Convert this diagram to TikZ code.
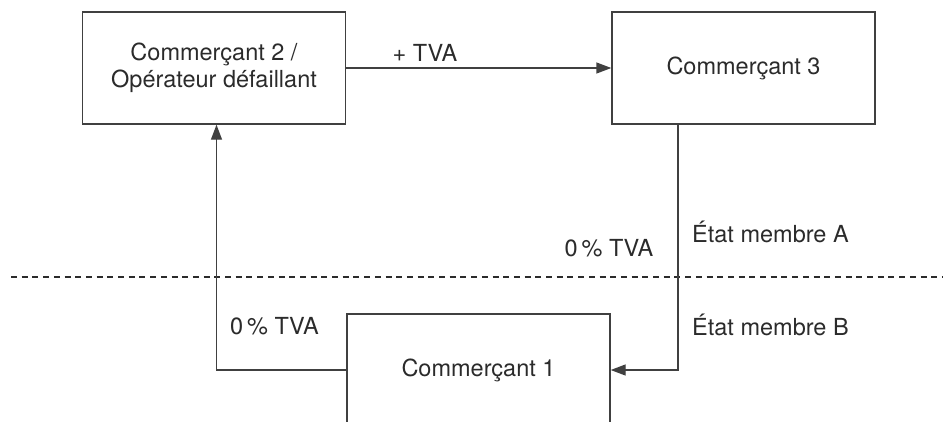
\documentclass[tikz,border=0pt]{standalone}
\usepackage{fontspec}
\setmainfont{TeX Gyre Heros}
\usetikzlibrary{arrows.meta}
\definecolor{ink}{HTML}{2B2B2B}
\definecolor{linec}{HTML}{404040}
\tikzset{
  box/.style={draw=linec, line width=1.4pt, minimum width=263pt, minimum height=112pt, inner sep=0pt, align=center, text=ink, font=\fontsize{23.5}{27}\selectfont},
  conn/.style={draw=linec, line width=1.4pt, -{Triangle[length=15pt,width=11pt]}},
  lbl/.style={text=ink, inner sep=0pt, font=\fontsize{23.5}{24}\selectfont},
  sep/.style={draw=ink, line width=1.3pt, dash pattern=on 6pt off 4.7pt}
}
\begin{document}
\begin{tikzpicture}[x=1pt,y=-1pt]
\useasboundingbox (0,0) rectangle (943,421);
\clip (0,0) rectangle (943,421);
\node[box] (c2) at (214,68) {Commerçant 2 /\\Opérateur défaillant};
\node[box] (c3) at (743.5,68) {Commerçant 3};
\node[box] (c1) at (478.5,370) {Commerçant 1};
\coordinate (dl) at (11,277);
\coordinate (dr) at (943,277);
\draw[sep] (dl) -- (dr);
\draw[conn] (c2) -- (c3);
\draw[conn] ([xshift=-65.5pt]c3.south) |- (c1.east);
\draw[conn] (c1.west) -| ([xshift=2.5pt]c2.south);
\node[lbl] (tva1) at (425,53) {+ TVA};
\node[lbl] (tva2) at (609,248) {0\,\% TVA};
\node[lbl, anchor=west] (ema) at (692,232) {État membre A};
\node[lbl, anchor=west] (emb) at (692,325) {État membre B};
\node[lbl, anchor=west] (tva3) at (230,326) {0\,\% TVA};
\end{tikzpicture}
\end{document}
